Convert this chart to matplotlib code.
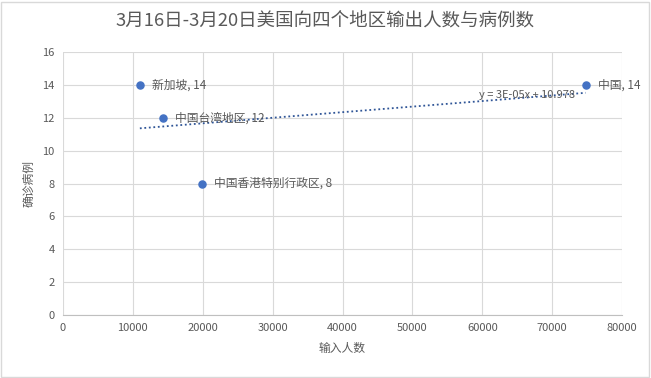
import numpy as np
import matplotlib
matplotlib.use("Agg")
from matplotlib import pyplot as plt
from matplotlib.patches import Rectangle

plt.rcParams['font.family'] = ['Noto Sans CJK SC', 'DejaVu Sans']

names = ["新加坡", "中国台湾地区", "中国香港特别行政区", "中国"]
inbound = [11000, 14300, 19900, 74800]   # 输入人数
cases = [14, 12, 8, 14]                  # 确诊病例

grey = "#595959"
blue = "#4472C4"

fig = plt.figure(figsize=(6.51, 3.78), dpi=100)
ax = fig.add_axes([63/651, 1-315/378, (622-63)/651, (315-52)/378])

# chart border
fig.patches.append(Rectangle((0.002, 0.003), 0.995, 0.993, transform=fig.transFigure,
                             fill=False, edgecolor="#d9d9d9", linewidth=1))

ax.scatter(inbound, cases, s=26, color=blue, zorder=3)

# linear trendline
k, b = np.polyfit(inbound, cases, 1)
xs = np.array([min(inbound), max(inbound)])
ax.plot(xs, k*xs + b, linestyle=(0, (1, 1.5)), color="#2F5597", linewidth=1.3, zorder=2)
ax.text(59500, 13.1, "y = 3E-05x + 10.978", fontsize=8, color=grey, va="bottom")

for n, x, y in zip(names, inbound, cases):
    ax.text(x + 1700, y, f"{n}, {y}", fontsize=8.5, color=grey, va="center")

ax.set_xlim(0, 80000)
ax.set_ylim(0, 16)
ax.set_xticks(range(0, 80001, 10000))
ax.set_yticks(range(0, 17, 2))
ax.grid(True, color="#d9d9d9", linewidth=0.8)
ax.set_axisbelow(True)
for s in ["top", "right", "left"]:
    ax.spines[s].set_visible(False)
ax.spines["bottom"].set_color("#bfbfbf")
ax.tick_params(length=0, labelsize=8, labelcolor=grey, pad=6)

ax.set_xlabel("输入人数", fontsize=8.5, color=grey, labelpad=6)
ax.set_ylabel("确诊病例", fontsize=8.5, color=grey, labelpad=5)
fig.text(0.5, 1-22/378, "3月16日-3月20日美国向四个地区输出人数与病例数", ha="center", va="center",
         fontsize=13.3, color=grey)

fig.savefig("out.png", dpi=100)
